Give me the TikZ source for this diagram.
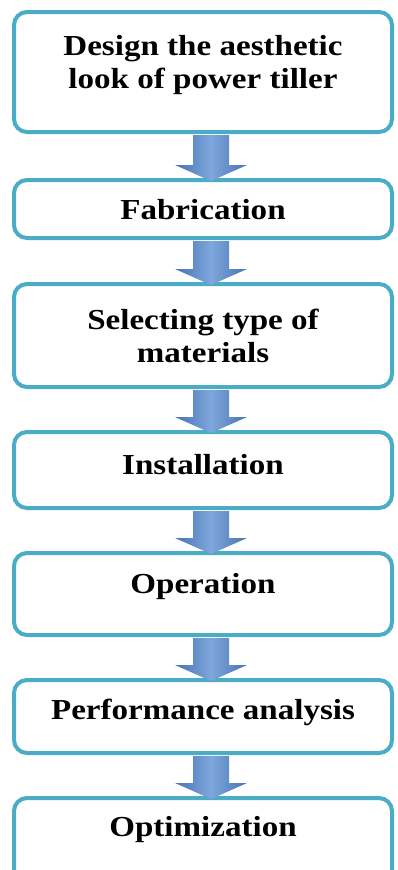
\documentclass[tikz,border=0pt]{standalone}
\usepackage{fontspec}
\setmainfont[FakeStretch=1.14]{Liberation Serif}
\definecolor{boxline}{HTML}{4BACC6}
\definecolor{arrlight}{HTML}{7FA7DD}
\definecolor{arrdark}{HTML}{4673B3}
\tikzset{
  stepbox/.style={draw=boxline, line width=4pt, rounded corners=13pt, minimum width=378pt, inner sep=0pt, fill=white},
  lbl/.style={font=\bfseries\fontsize{29}{33}\selectfont, align=center, text=black, inner sep=0pt},
  blockarr/.style={left color=arrdark, right color=arrdark, middle color=arrlight, draw=none}
}
\newcommand\blockarrow[2]{%
  \path[blockarr] let \p1=(#1.south), \p2=(#2.north) in
    (\x1+8pt-18pt,\y1-1pt) -- (\x1+8pt+18pt,\y1-1pt) -- (\x1+8pt+18pt,\y2+13pt)
    -- (\x1+8pt+36pt,\y2+13pt) -- (\x1+8pt,\y2-3pt) -- (\x1+8pt-36pt,\y2+13pt)
    -- (\x1+8pt-18pt,\y2+13pt) -- cycle;}
\usetikzlibrary{calc}
\begin{document}
\begin{tikzpicture}[x=1pt,y=-1pt]
\useasboundingbox (0,0) rectangle (397,870);
\node[stepbox, minimum height=120pt] (b1) at (203,72) {};
\node[stepbox, minimum height=58pt] (b2) at (203,209) {};
\node[stepbox, minimum height=103pt] (b3) at (203,335.5) {};
\node[stepbox, minimum height=76pt] (b4) at (203,470) {};
\node[stepbox, minimum height=82pt] (b5) at (203,594) {};
\node[stepbox, minimum height=73pt] (b6) at (203,716.5) {};
\node[stepbox, minimum height=90pt] (b7) at (203,843) {};
\blockarrow{b1}{b2}
\blockarrow{b2}{b3}
\blockarrow{b3}{b4}
\blockarrow{b4}{b5}
\blockarrow{b5}{b6}
\blockarrow{b6}{b7}
\node[lbl] (t1) at (203,65) {Design the aesthetic\\look of power tiller};
\node[lbl] (t2) at (203,210) {Fabrication};
\node[lbl] (t3) at (203,336) {Selecting type of\\materials};
\node[lbl] (t4) at (203,465) {Installation};
\node[lbl] (t5) at (203,587) {Operation};
\node[lbl] (t6) at (203,712) {Performance analysis};
\node[lbl] (t7) at (203,830) {Optimization};
\end{tikzpicture}
\end{document}
